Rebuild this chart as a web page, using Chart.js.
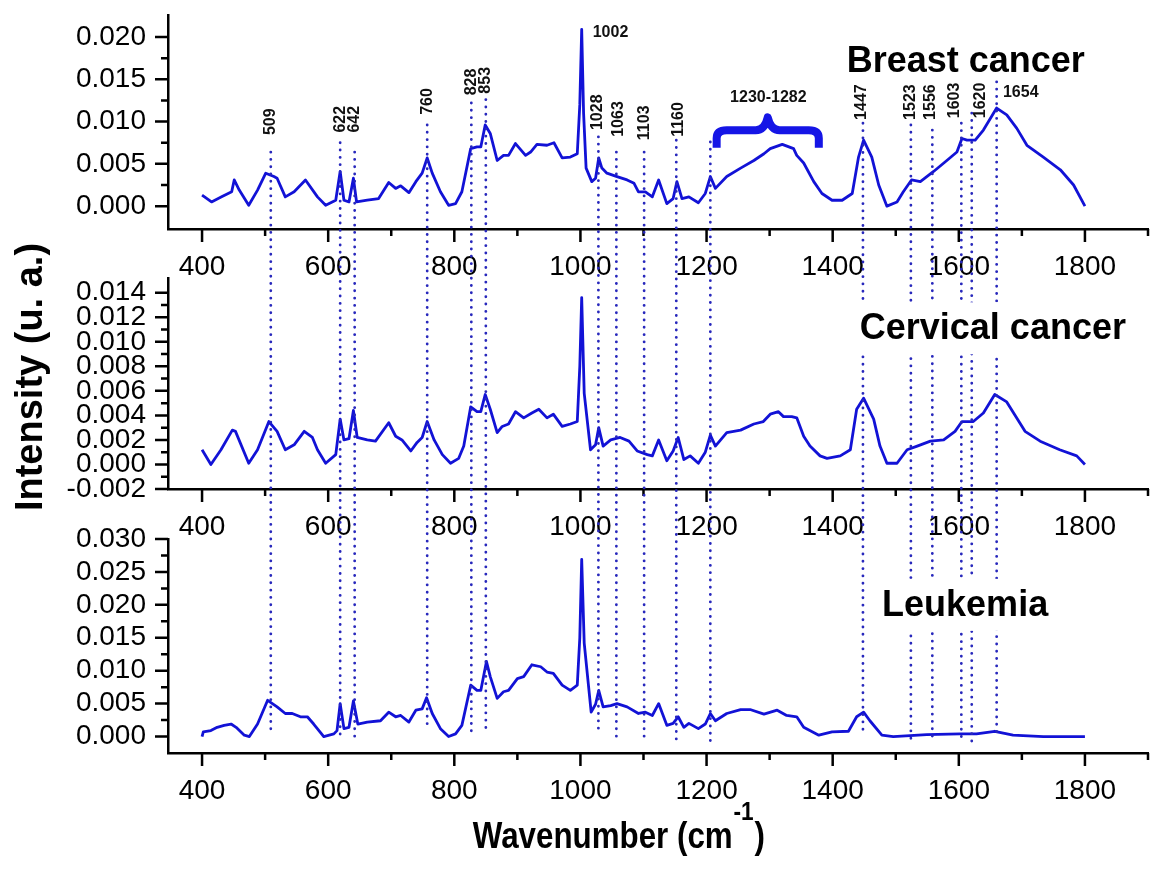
<!DOCTYPE html>
<html>
<head>
<meta charset="utf-8">
<script src="https://cdn.jsdelivr.net/npm/chart.js@4.4.1/dist/chart.umd.min.js"></script>
<style>
  body { margin: 0; background: #fff; }
  #wrap { position: relative; width: 1161px; height: 878px; overflow: hidden; }
  #wrap canvas { position: absolute; left: 0; }
</style>
</head>
<body>
<div id="wrap">
  <canvas id="c1" width="1161" height="300" style="top:0px"></canvas>
  <canvas id="c2" width="1161" height="300" style="top:255px"></canvas>
  <canvas id="c3" width="1161" height="363" style="top:515px"></canvas>
  <canvas id="overlay" width="1161" height="878" style="top:0px"></canvas>
</div>
<script>
// spectra: [wavenumber, intensity]
const breast = [
  [400,0.0013],[415,0.0005],[431,0.0011],[447,0.0017],[451,0.0031],[459,0.0019],[474,0.0001],[488,0.0019],
  [501,0.0039],[514,0.0035],[519,0.0033],[532,0.0011],[546,0.0017],[564,0.0031],[583,0.0011],[596,0.0001],
  [612,0.0007],[619,0.0041],[625,0.0007],[633,0.0005],[640,0.0033],[645,0.0005],[662,0.0007],[680,0.0009],
  [696,0.0028],[707,0.0021],[715,0.0024],[728,0.0016],[739,0.0029],[749,0.0039],[757,0.0057],[765,0.0039],
  [778,0.0017],[791,0.0001],[802,0.0003],[812,0.0017],[826,0.0068],[836,0.0070],[842,0.0070],[849,0.0096],
  [857,0.0086],[868,0.0054],[878,0.0060],[886,0.0060],[897,0.0074],[913,0.0060],[921,0.0064],[931,0.0073],
  [947,0.0072],[958,0.0075],[971,0.0057],[984,0.0058],[995,0.0062],[999,0.0120],[1002,0.0209],[1005,0.0110],
  [1009,0.0045],[1018,0.0029],[1024,0.0033],[1029,0.0057],[1034,0.0045],[1042,0.0039],[1058,0.0035],[1074,0.0031],
  [1085,0.0027],[1092,0.0017],[1103,0.0017],[1114,0.0011],[1124,0.0031],[1137,0.0003],[1147,0.0009],[1153,0.0029],
  [1161,0.0009],[1172,0.0011],[1187,0.0004],[1198,0.0015],[1206,0.0035],[1214,0.0021],[1232,0.0035],[1254,0.0045],
  [1275,0.0054],[1291,0.0062],[1301,0.0068],[1320,0.0073],[1338,0.0068],[1343,0.0060],[1354,0.0051],[1370,0.0029],
  [1383,0.0015],[1399,0.0007],[1415,0.0007],[1431,0.0015],[1441,0.0058],[1449,0.0078],[1462,0.0058],[1473,0.0025],
  [1486,0.0000],[1502,0.0005],[1512,0.0017],[1525,0.0031],[1539,0.0029],[1560,0.0041],[1581,0.0054],[1597,0.0064],
  [1605,0.0080],[1613,0.0078],[1626,0.0078],[1639,0.0090],[1660,0.0116],[1676,0.0108],[1692,0.0092],[1708,0.0072],
  [1734,0.0058],[1761,0.0043],[1782,0.0025],[1800,0.0000]
];
const cervical = [
  [400,0.0012],[414,0.0000],[430,0.0012],[448,0.0028],[453,0.0027],[474,0.0001],[488,0.0012],[506,0.0035],
  [519,0.0027],[532,0.0012],[546,0.0016],[562,0.0027],[575,0.0022],[583,0.0012],[596,0.0001],[612,0.0008],
  [619,0.0037],[625,0.0020],[633,0.0021],[640,0.0044],[646,0.0022],[662,0.0020],[675,0.0019],[696,0.0034],
  [707,0.0023],[717,0.0020],[731,0.0011],[741,0.0018],[749,0.0022],[757,0.0035],[768,0.0020],[781,0.0008],
  [794,0.0001],[807,0.0005],[815,0.0015],[826,0.0047],[836,0.0043],[842,0.0043],[849,0.0057],[857,0.0045],
  [868,0.0026],[876,0.0031],[886,0.0033],[897,0.0043],[910,0.0038],[923,0.0042],[934,0.0045],[947,0.0038],
  [957,0.0041],[971,0.0031],[984,0.0033],[995,0.0035],[999,0.0080],[1002,0.0136],[1006,0.0058],[1016,0.0012],
  [1024,0.0016],[1029,0.0030],[1036,0.0015],[1048,0.0020],[1063,0.0022],[1077,0.0019],[1090,0.0011],[1106,0.0008],
  [1114,0.0007],[1124,0.0020],[1137,0.0003],[1147,0.0011],[1155,0.0022],[1164,0.0004],[1174,0.0007],[1187,0.0001],
  [1198,0.0010],[1206,0.0024],[1214,0.0015],[1232,0.0026],[1254,0.0028],[1275,0.0033],[1290,0.0035],[1301,0.0041],
  [1314,0.0043],[1322,0.0039],[1335,0.0039],[1343,0.0038],[1354,0.0023],[1364,0.0015],[1380,0.0007],[1391,0.0005],
  [1412,0.0007],[1428,0.0012],[1438,0.0045],[1449,0.0054],[1465,0.0037],[1475,0.0015],[1486,0.0001],[1502,0.0001],
  [1518,0.0012],[1534,0.0015],[1555,0.0019],[1576,0.0020],[1594,0.0027],[1605,0.0035],[1623,0.0035],[1639,0.0042],
  [1657,0.0057],[1676,0.0051],[1705,0.0027],[1729,0.0019],[1760,0.0012],[1787,0.0007],[1800,0.0000]
];
const leukemia = [
  [400,0.0000],[402,0.0007],[414,0.0009],[424,0.0014],[435,0.0017],[446,0.0019],[454,0.0014],[467,0.0002],
  [475,0.0000],[488,0.0019],[504,0.0055],[519,0.0045],[532,0.0035],[543,0.0035],[556,0.0030],[567,0.0030],
  [577,0.0019],[593,0.0000],[609,0.0004],[614,0.0009],[619,0.0050],[625,0.0012],[633,0.0014],[640,0.0054],
  [647,0.0019],[662,0.0022],[683,0.0024],[696,0.0037],[707,0.0030],[715,0.0032],[728,0.0022],[739,0.0040],
  [749,0.0042],[756,0.0059],[765,0.0035],[778,0.0012],[791,0.0000],[802,0.0004],[812,0.0017],[826,0.0078],
  [836,0.0070],[842,0.0070],[851,0.0114],[857,0.0091],[868,0.0058],[878,0.0068],[886,0.0070],[900,0.0088],
  [910,0.0091],[923,0.0109],[937,0.0106],[947,0.0098],[957,0.0096],[971,0.0078],[984,0.0070],[995,0.0078],
  [999,0.0150],[1002,0.0269],[1006,0.0142],[1017,0.0037],[1024,0.0049],[1029,0.0070],[1036,0.0045],[1048,0.0047],
  [1058,0.0050],[1074,0.0045],[1092,0.0035],[1103,0.0037],[1114,0.0032],[1124,0.0050],[1137,0.0017],[1147,0.0020],
  [1155,0.0030],[1164,0.0014],[1172,0.0020],[1187,0.0012],[1198,0.0019],[1206,0.0035],[1214,0.0024],[1232,0.0035],
  [1254,0.0041],[1269,0.0041],[1291,0.0034],[1312,0.0040],[1327,0.0032],[1343,0.0030],[1354,0.0014],[1378,0.0002],
  [1399,0.0007],[1425,0.0008],[1438,0.0030],[1449,0.0037],[1459,0.0024],[1478,0.0002],[1496,0.0000],[1549,0.0003],
  [1602,0.0004],[1628,0.0004],[1657,0.0008],[1686,0.0002],[1734,0.0000],[1800,0.0000]
];

// axis ticks
const xMajorTicks = [400, 600, 800, 1000, 1200, 1400, 1600, 1800];
const xMinorTicks = [500, 700, 900, 1100, 1300, 1500, 1700, 1900];
const breastYMajor = [0, 0.005, 0.010, 0.015, 0.020];
const breastYMinor = [0.0025, 0.0075, 0.0125, 0.0175];
const cervicalYMajor = [-0.002, 0, 0.002, 0.004, 0.006, 0.008, 0.010, 0.012, 0.014];
const cervicalYMinor = [-0.001, 0.001, 0.003, 0.005, 0.007, 0.009, 0.011, 0.013];
const leukemiaYMajor = [0, 0.005, 0.010, 0.015, 0.020, 0.025, 0.030];
const leukemiaYMinor = [0.0025, 0.0075, 0.0125, 0.0175, 0.0225, 0.0275];

// band markers (dotted lines through all three panels)
const peakPositions = [509, 619, 642, 757, 827, 850, 1028.5, 1057, 1101, 1152, 1206, 1448, 1524, 1558, 1604, 1620.5, 1660];
const peakLabels = ['509', '622', '642', '760', '828', '853', '1028', '1063', '1103', '1160', '', '1447', '1523', '1556', '1603', '1620', '1654'];
const peakLabelX = [509, 619, 642, 757, 827, 850, 1027, 1060, 1101, 1155, 1206, 1446, 1524, 1556, 1594, 1634, 1670];
const peakLabelY = [0.0084, 0.0087, 0.0087, 0.0108, 0.0131, 0.0133, 0.0090, 0.0082, 0.0078, 0.0082, 0, 0.0102, 0.0102, 0.0102, 0.0104, 0.0104, 0.0134];
const peakLineTop = [0.0064, 0.0075, 0.0064, 0.0096, 0.0122, 0.0126, 0.0082, 0.0064, 0.0064, 0.0078, 0.0076, 0.0098, 0.0096, 0.0090, 0.0098, 0.0110, 0.0147];
const peakLineBottom = [0.0002, -0.0002, -0.0002, 0.0009, 0.0006, 0.0006, 0.0009, -0.0002, -0.0002, -0.0006, -0.0006, 0.0002, -0.0006, -0.0003, -0.0009, -0.0009, -0.0003];

const panelTitles = ['Breast cancer', 'Cervical cancer', 'Leukemia'];
const panelTitleX = [1611, 1654, 1610];
const panelTitleY = [0.0172, 0.0111, 0.0200];

const FONT = "'Liberation Sans', Arial, Helvetica, sans-serif";
const LINE_BLUE = '#1212d6';
const DOT_BLUE = '#2828bc';
const canvasTops = [0, 255, 515];

Chart.defaults.font.family = FONT;
Chart.defaults.color = '#000';

function tickList(major, minor) {
    const list = major.map(v => ({ value: v, isMajor: true }))
        .concat(minor.map(v => ({ value: v, isMajor: false })));
    return list.sort((a, b) => a.value - b.value);
}

const tickMarks = {
    id: 'tickMarks',
    afterDraw(chart) {
        const ctx = chart.ctx;
        const xs = chart.scales.x, ys = chart.scales.y;
        ctx.save();
        ctx.strokeStyle = '#000';
        ctx.lineWidth = 2.5;
        ctx.beginPath();
        xs.ticks.forEach(t => {
            const p = xs.getPixelForValue(t.value);
            ctx.moveTo(p, xs.top);
            ctx.lineTo(p, xs.top + (t.isMajor ? 13 : 7));
        });
        ys.ticks.forEach(t => {
            const p = ys.getPixelForValue(t.value);
            ctx.moveTo(ys.right, p);
            ctx.lineTo(ys.right - (t.isMajor ? 13 : 7), p);
        });
        ctx.stroke();
        ctx.restore();
    }
};

function makePanel(id, points, yMin, yMax, yMajor, yMinor, areaTop, areaBottom) {
    const canvas = document.getElementById(id);
    const h = canvas.height;
    return new Chart(canvas, {
        type: 'line',
        data: {
            datasets: [{
                data: points.map(([x, y]) => ({ x: x, y: y })),
                borderColor: LINE_BLUE,
                borderWidth: 2.8,
                pointRadius: 0,
                tension: 0,
                borderJoinStyle: 'round'
            }]
        },
        options: {
            responsive: false,
            animation: false,
            events: [],
            layout: { padding: { top: areaTop, right: 13, left: 0, bottom: 0 } },
            plugins: { legend: { display: false }, tooltip: { enabled: false } },
            scales: {
                x: {
                    type: 'linear',
                    min: 346,
                    max: 1900,
                    afterBuildTicks: s => { s.ticks = tickList(xMajorTicks, xMinorTicks); },
                    afterFit: s => { s.height = h - areaBottom; s.paddingLeft = 0; s.paddingRight = 0; },
                    grid: { color: 'transparent', drawOnChartArea: false, tickLength: 13 },
                    border: { display: true, color: '#000', width: 2.5 },
                    ticks: {
                        autoSkip: false,
                        maxRotation: 0,
                        padding: 8,
                        font: { size: 28 },
                        color: '#000',
                        callback: (v, i, ticks) => ticks[i].isMajor ? String(v) : ''
                    }
                },
                y: {
                    min: yMin,
                    max: yMax,
                    afterBuildTicks: s => { s.ticks = tickList(yMajor, yMinor); },
                    afterFit: s => { s.width = 168; s.paddingTop = 0; s.paddingBottom = 0; },
                    grid: { color: 'transparent', drawOnChartArea: false, tickLength: 13 },
                    border: { display: true, color: '#000', width: 2.5 },
                    ticks: {
                        autoSkip: false,
                        padding: 9,
                        font: { size: 28 },
                        color: '#000',
                        callback: (v, i, ticks) => ticks[i].isMajor ? v.toFixed(3) : ''
                    }
                }
            }
        },
        plugins: [tickMarks]
    });
}

const charts = [
    makePanel('c1', breast, -0.0027, 0.0226, breastYMajor, breastYMinor, 15, 229),
    makePanel('c2', cervical, -0.002, 0.0152, cervicalYMajor, cervicalYMinor, 23, 234),
    makePanel('c3', leukemia, -0.0025, 0.030, leukemiaYMajor, leukemiaYMinor, 24, 238)
];

// everything that spans panels goes on the overlay, placed through the charts' scales
function drawOverlay() {
    const ctx = document.getElementById('overlay').getContext('2d');
    const px = w => charts[0].scales.x.getPixelForValue(w);
    const py = (k, v) => canvasTops[k] + charts[k].scales.y.getPixelForValue(v);

    // dotted marker lines
    ctx.save();
    ctx.strokeStyle = DOT_BLUE;
    ctx.lineWidth = 2.8;
    ctx.lineCap = 'round';
    ctx.setLineDash([0.1, 7.2]);
    peakPositions.forEach((w, i) => {
        ctx.beginPath();
        ctx.moveTo(px(w), py(0, peakLineTop[i]));
        ctx.lineTo(px(w), py(2, peakLineBottom[i]));
        ctx.stroke();
    });
    ctx.restore();

    // marker labels
    ctx.save();
    ctx.fillStyle = '#111';
    ctx.font = 'bold 16px ' + FONT;
    peakLabels.forEach((t, i) => {
        if (!t) return;
        const x = px(peakLabelX[i]), y = py(0, peakLabelY[i]);
        if (t === '1654') {
            ctx.textAlign = 'left';
            ctx.textBaseline = 'middle';
            ctx.fillText(t, x, y);
            return;
        }
        ctx.save();
        ctx.translate(x, y);
        ctx.rotate(-Math.PI / 2);
        ctx.textAlign = 'left';
        ctx.textBaseline = 'middle';
        ctx.fillText(t, 0, 0);
        ctx.restore();
    });
    ctx.textAlign = 'left';
    ctx.textBaseline = 'middle';
    ctx.fillText('1002', px(1002) + 11, py(0, 0.0205));
    ctx.textAlign = 'center';
    ctx.fillText('1230-1282', px(1298), py(0, 0.0128));
    ctx.restore();

    // brace over the 1230-1282 band
    const xl = px(1216), xr = px(1378), xm = (xl + xr) / 2;
    const yt = py(0, 0.0105), yb = py(0, 0.0069);
    const ym = yt + (yb - yt) * 0.42;
    ctx.save();
    ctx.strokeStyle = '#1515e6';
    ctx.lineWidth = 8;
    ctx.lineJoin = 'round';
    ctx.beginPath();
    ctx.moveTo(xl, yb);
    ctx.lineTo(xl, ym + 8);
    ctx.quadraticCurveTo(xl, ym, xl + 10, ym);
    ctx.lineTo(xm - 12, ym);
    ctx.quadraticCurveTo(xm - 3, ym, xm, yt);
    ctx.quadraticCurveTo(xm + 3, ym, xm + 12, ym);
    ctx.lineTo(xr - 10, ym);
    ctx.quadraticCurveTo(xr, ym, xr, ym + 8);
    ctx.lineTo(xr, yb);
    ctx.stroke();
    ctx.restore();

    // panel titles (cervical and leukemia interrupt the dotted lines)
    ctx.save();
    ctx.font = 'bold 36px ' + FONT;
    ctx.textAlign = 'center';
    ctx.textBaseline = 'middle';
    panelTitles.forEach((t, k) => {
        const x = px(panelTitleX[k]), y = py(k, panelTitleY[k]);
        if (k > 0) {
            const w = ctx.measureText(t).width;
            ctx.fillStyle = '#fff';
            ctx.fillRect(x - w / 2 - 4, y - 26, w + 8, 52);
        }
        ctx.fillStyle = '#000';
        ctx.fillText(t, x, y + 1);
    });
    ctx.restore();

    // axis titles
    ctx.save();
    ctx.fillStyle = '#000';
    ctx.font = 'bold 38px ' + FONT;
    ctx.textAlign = 'center';
    ctx.textBaseline = 'middle';
    ctx.translate(32, 377);
    ctx.rotate(-Math.PI / 2);
    ctx.fillText('Intensity (u. a.)', 0, 0);
    ctx.restore();

    ctx.save();
    ctx.fillStyle = '#000';
    const main = 'Wavenumber (cm', sup = '-1', close = ')';
    ctx.font = 'bold 36px ' + FONT;
    const w1 = ctx.measureText(main).width, w3 = ctx.measureText(close).width;
    ctx.font = 'bold 26px ' + FONT;
    const w2 = ctx.measureText(sup).width;
    const sx = 0.87, total = (w1 + w2 + w3) * sx;
    ctx.translate(618 - total / 2, 848);
    ctx.scale(sx, 1);
    ctx.textBaseline = 'alphabetic';
    ctx.textAlign = 'left';
    ctx.font = 'bold 36px ' + FONT;
    ctx.fillText(main, 0, 0);
    ctx.font = 'bold 26px ' + FONT;
    ctx.fillText(sup, w1 + 1, -28);
    ctx.font = 'bold 36px ' + FONT;
    ctx.fillText(close, w1 + w2 + 2, 0);
    ctx.restore();
}

drawOverlay();
</script>
</body>
</html>
